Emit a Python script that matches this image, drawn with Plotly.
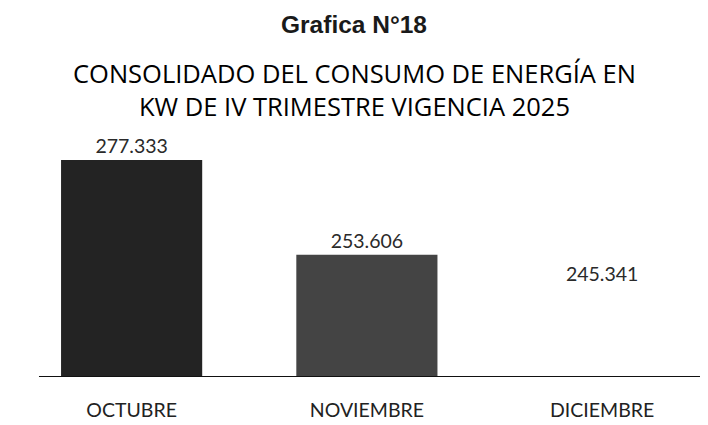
import plotly.graph_objects as go

categories = ["OCTUBRE", "NOVIEMBRE", "DICIEMBRE"]
values = [277.333, 253.606, 245.341]
value_labels = ["277.333", "253.606", "245.341"]
bar_colors = ["#232323", "#444444", "#ffffff"]
title_lines = ["CONSOLIDADO DEL CONSUMO DE ENERGÍA EN", "KW DE IV TRIMESTRE VIGENCIA 2025"]

y_min = 223.1
y_max = 282.3

fig = go.Figure()
fig.add_trace(go.Bar(
    x=categories,
    y=values,
    marker=dict(color=bar_colors, line=dict(width=0)),
    width=0.6,
    text=value_labels,
    textposition="outside",
    textfont=dict(family="Lato", size=19.5, color="#2a2a2a"),
    cliponaxis=False,
))

annotations = [
    dict(text="<b>Grafica N°18</b>", xref="paper", yref="paper", x=0.5, y=1,
         xanchor="center", yanchor="top", yshift=131, xshift=-7, showarrow=False,
         font=dict(family="Liberation Sans", size=24.5, color="#1a1a1a")),
    dict(text="<br>".join(title_lines), xref="paper", yref="paper", x=0.5, y=1,
         xanchor="center", yanchor="middle", yshift=51, xshift=-7, showarrow=False,
         font=dict(family="Open Sans", size=25.5, color="#000")),
]

fig.update_layout(
    width=700, height=417,
    paper_bgcolor="white", plot_bgcolor="white",
    margin=dict(l=6, r=0, t=132, b=48),
    showlegend=False,
    xaxis=dict(range=[-0.5, 2.45], showgrid=False, showline=False, zeroline=False,
               tickfont=dict(family="Lato", size=19.5, color="#222"),
               ticklabelstandoff=19),
    yaxis=dict(range=[y_min, y_max], visible=False),
    annotations=annotations,
    shapes=[dict(type="line", xref="paper", yref="y", x0=0.036, x1=1.0, y0=y_min, y1=y_min,
                 line=dict(color="#111", width=2))],
)

fig.write_html("out.html")
